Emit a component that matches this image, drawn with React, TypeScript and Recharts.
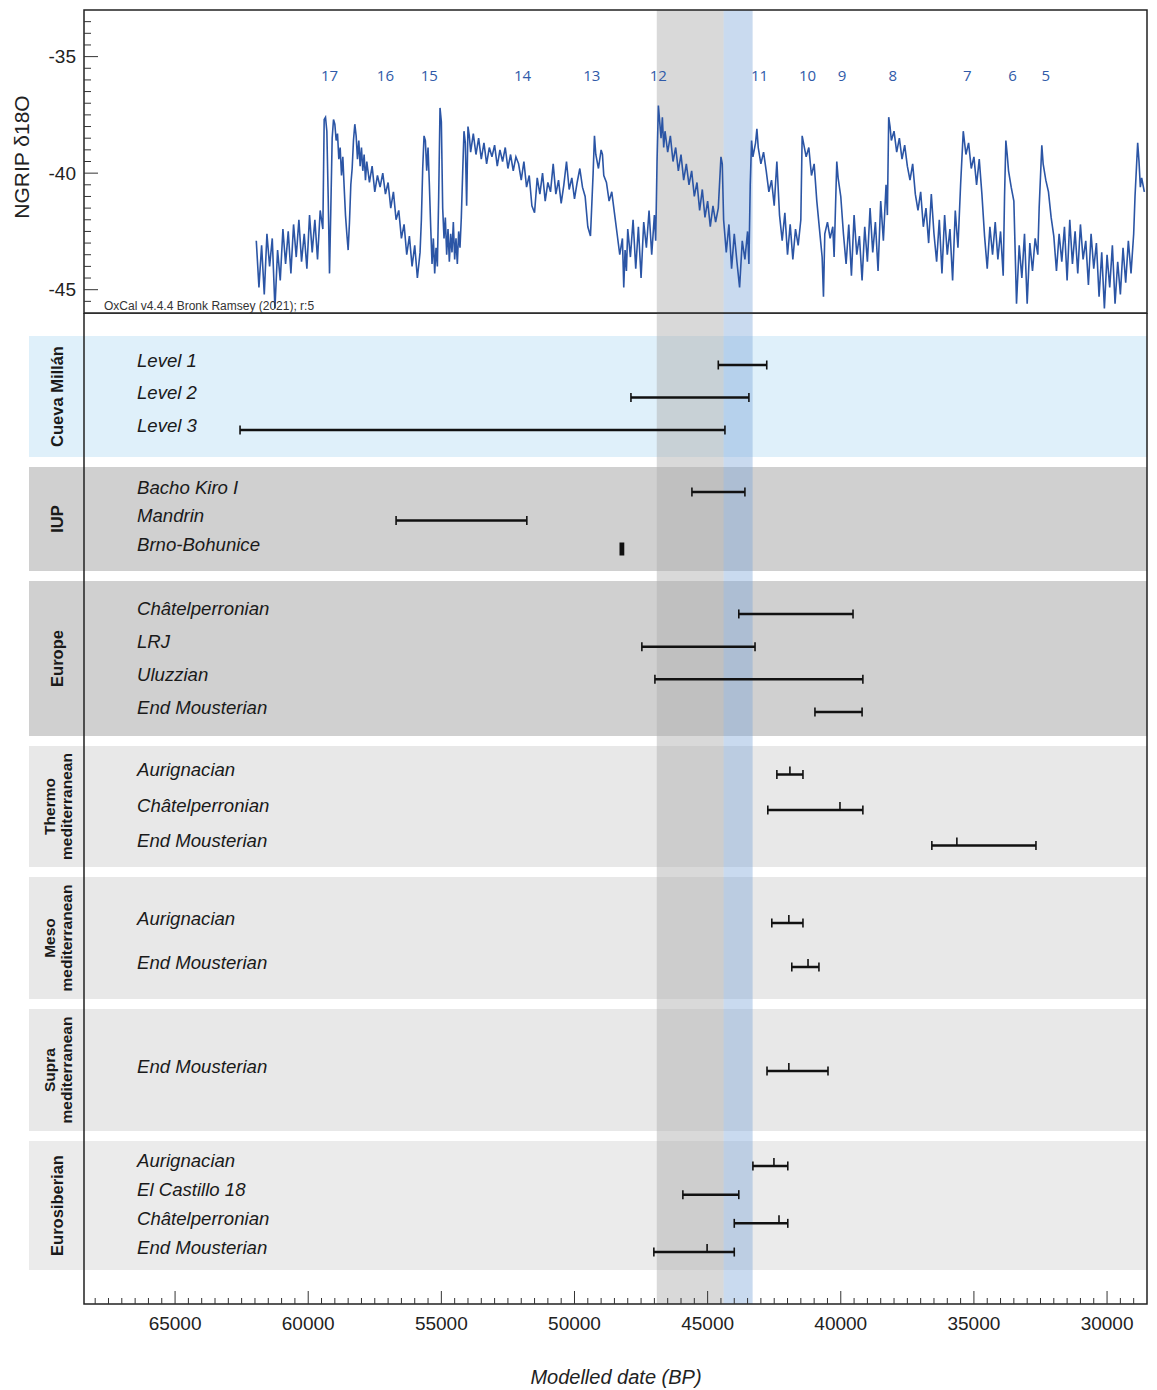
// NGRIP δ18O record over modelled date ranges (OxCal) for Cueva Millán and comparison sites.
// Two stacked Recharts charts share one reversed BP time axis.

import { ComposedChart, Line, LineChart, ReferenceArea, ReferenceDot, XAxis, YAxis } from "recharts";

// ---- data -----------------------------------------------------------------

// [year BP, δ18O ‰]
const NGRIP: [number, number][] = [
  [61950, -42.9], [61850, -44.9], [61750, -43.1], [61650, -45.2], [61550, -42.6], [61450, -44.0],
  [61350, -42.8], [61250, -45.8], [61150, -43.3], [61050, -44.6], [60950, -42.4], [60850, -43.9],
  [60750, -42.5], [60650, -44.3], [60550, -42.2], [60450, -43.6], [60350, -42.0], [60250, -43.8],
  [60150, -42.6], [60050, -44.1], [59950, -41.8], [59850, -43.4], [59750, -42.0], [59650, -43.7],
  [59550, -41.6], [59450, -42.4], [59400, -37.7], [59350, -37.6], [59300, -38.2], [59250, -41.0],
  [59200, -44.3], [59150, -41.5], [59100, -38.5], [59050, -37.7], [59000, -37.9], [58950, -38.6],
  [58900, -38.3], [58850, -39.4], [58800, -38.9], [58750, -40.1], [58700, -39.3], [58650, -40.6],
  [58600, -41.8], [58550, -42.6], [58500, -43.3], [58450, -42.1], [58400, -40.5], [58350, -39.8],
  [58300, -38.6], [58250, -37.9], [58200, -38.4], [58150, -39.4], [58100, -38.6], [58050, -39.7],
  [58000, -38.9], [57950, -39.9], [57900, -39.2], [57850, -40.3], [57800, -39.5], [57700, -40.4],
  [57600, -39.7], [57500, -40.8], [57400, -40.1], [57300, -40.6], [57200, -40.0], [57100, -40.9],
  [57000, -40.4], [56900, -41.5], [56800, -40.8], [56700, -42.0], [56600, -41.6], [56500, -42.8],
  [56400, -42.2], [56300, -43.5], [56200, -42.7], [56100, -44.0], [56000, -43.1], [55900, -44.5],
  [55800, -43.4], [55750, -42.0], [55700, -39.8], [55650, -38.4], [55600, -38.6], [55550, -39.9],
  [55500, -38.9], [55450, -40.5], [55400, -42.3], [55350, -43.9], [55300, -42.8], [55250, -44.3],
  [55200, -43.2], [55150, -44.0], [55100, -41.0], [55050, -37.2], [55000, -37.8], [54950, -41.5],
  [54900, -42.8], [54850, -41.9], [54800, -43.5], [54750, -42.4], [54700, -43.8], [54650, -42.6],
  [54600, -43.4], [54550, -42.1], [54500, -43.7], [54450, -42.8], [54400, -43.9], [54350, -42.5],
  [54300, -43.2], [54250, -41.9], [54200, -40.0], [54150, -38.2], [54100, -38.7], [54050, -41.4],
  [54000, -38.0], [53950, -38.4], [53900, -39.1], [53800, -38.3], [53700, -39.2], [53600, -38.5],
  [53500, -39.4], [53400, -38.7], [53300, -39.6], [53200, -38.9], [53100, -39.3], [53000, -38.8],
  [52900, -39.7], [52800, -39.0], [52700, -39.5], [52600, -38.9], [52500, -39.8], [52400, -39.2],
  [52300, -39.9], [52200, -39.3], [52100, -39.6], [52000, -40.3], [51900, -39.5], [51800, -40.6],
  [51700, -40.1], [51600, -41.4], [51500, -41.7], [51400, -40.2], [51300, -40.9], [51200, -40.0],
  [51100, -41.2], [51000, -40.4], [50900, -40.8], [50800, -39.6], [50700, -40.9], [50600, -40.3],
  [50500, -41.3], [50400, -40.5], [50300, -39.5], [50200, -40.7], [50100, -40.2], [50000, -41.1],
  [49900, -40.4], [49800, -39.8], [49700, -40.6], [49600, -41.0], [49500, -42.3], [49400, -42.7],
  [49300, -40.0], [49250, -38.4], [49200, -39.2], [49100, -39.8], [49000, -39.0], [48950, -39.2],
  [48900, -40.1], [48800, -40.4], [48700, -41.2], [48600, -40.8], [48500, -41.7], [48400, -42.6],
  [48300, -43.5], [48200, -42.8], [48150, -44.9], [48100, -43.3], [48050, -44.2], [48000, -42.4],
  [47900, -43.6], [47800, -42.0], [47700, -44.1], [47600, -42.3], [47500, -44.5], [47400, -42.1],
  [47300, -43.2], [47200, -41.6], [47100, -43.5], [47000, -41.8], [46950, -42.9], [46900, -39.5],
  [46850, -37.1], [46800, -37.8], [46750, -38.5], [46700, -37.6], [46650, -38.9], [46600, -38.2],
  [46500, -39.1], [46400, -38.4], [46300, -39.5], [46200, -38.9], [46100, -39.9], [46000, -39.2],
  [45900, -40.3], [45800, -39.6], [45700, -40.5], [45600, -39.9], [45500, -41.0], [45400, -40.4],
  [45300, -41.6], [45200, -40.7], [45100, -41.9], [45000, -41.2], [44900, -42.3], [44800, -41.4],
  [44700, -42.1], [44600, -41.5], [44500, -39.3], [44450, -39.6], [44400, -42.0], [44300, -43.4],
  [44200, -42.2], [44100, -44.1], [44000, -42.6], [43900, -43.8], [43800, -44.9], [43700, -42.9],
  [43600, -43.7], [43500, -42.5], [43450, -43.9], [43400, -40.5], [43350, -38.6], [43300, -39.3],
  [43200, -38.7], [43150, -38.1], [43100, -38.9], [43000, -39.6], [42900, -39.1], [42800, -39.9],
  [42700, -40.8], [42600, -40.3], [42500, -41.4], [42400, -39.5], [42300, -41.8], [42200, -42.9],
  [42100, -41.7], [42000, -43.5], [41900, -42.2], [41800, -43.7], [41700, -42.4], [41600, -43.1],
  [41500, -42.0], [41450, -38.4], [41400, -38.7], [41300, -39.3], [41200, -38.9], [41100, -40.1],
  [41000, -39.6], [40900, -41.2], [40800, -42.4], [40700, -43.6], [40650, -45.3], [40600, -42.6],
  [40500, -42.1], [40400, -42.8], [40300, -42.3], [40250, -43.6], [40150, -39.5], [40100, -40.2],
  [40000, -41.0], [39900, -42.6], [39800, -43.9], [39700, -42.2], [39600, -44.4], [39500, -41.8],
  [39400, -43.5], [39300, -42.7], [39200, -44.6], [39100, -42.3], [39000, -43.8], [38900, -41.5],
  [38800, -43.4], [38700, -42.1], [38600, -44.2], [38500, -41.2], [38400, -42.9], [38300, -40.5],
  [38250, -41.8], [38200, -37.6], [38150, -38.0], [38100, -38.6], [38000, -38.2], [37900, -39.1],
  [37800, -38.5], [37700, -39.4], [37600, -38.8], [37500, -39.7], [37400, -40.3], [37300, -39.6],
  [37200, -40.9], [37100, -41.6], [37000, -40.8], [36900, -42.3], [36800, -41.5], [36700, -43.0],
  [36600, -40.9], [36500, -42.6], [36400, -43.8], [36300, -42.0], [36200, -44.3], [36100, -41.8],
  [36000, -43.5], [35900, -42.4], [35800, -44.6], [35700, -41.6], [35600, -43.2], [35500, -40.5],
  [35400, -38.2], [35300, -39.2], [35200, -38.7], [35100, -39.8], [35000, -39.3], [34900, -40.5],
  [34800, -39.4], [34700, -40.9], [34600, -42.7], [34500, -44.1], [34400, -42.3], [34300, -43.5],
  [34200, -42.1], [34100, -43.7], [34000, -42.5], [33900, -44.4], [33850, -41.0], [33800, -38.6],
  [33750, -39.2], [33700, -39.9], [33600, -40.6], [33500, -41.2], [33400, -45.6], [33300, -43.1],
  [33200, -44.5], [33100, -42.6], [33000, -45.6], [32900, -43.0], [32800, -44.2], [32700, -42.8],
  [32600, -43.5], [32550, -41.5], [32450, -38.8], [32400, -39.6], [32300, -40.3], [32200, -40.8],
  [32100, -41.9], [32000, -42.7], [31900, -44.2], [31800, -42.6], [31700, -43.8], [31600, -42.3],
  [31500, -44.6], [31400, -42.0], [31300, -43.9], [31200, -42.5], [31100, -44.3], [31000, -42.2],
  [30900, -43.7], [30800, -42.9], [30700, -44.8], [30600, -42.6], [30500, -44.1], [30400, -43.0],
  [30300, -45.3], [30200, -43.4], [30100, -45.8], [30000, -43.5], [29900, -44.9], [29800, -43.1],
  [29700, -45.6], [29600, -43.8], [29500, -45.2], [29400, -43.2], [29300, -44.7], [29200, -42.9],
  [29100, -44.3], [29000, -42.6], [28950, -41.0], [28850, -38.7], [28800, -39.5], [28750, -40.6],
  [28700, -40.2], [28600, -40.8],
];

// Greenland interstadial numbers and where they sit on the time axis
const GI_LABELS = ["17", "16", "15", "14", "13", "12", "11", "10", "9", "8", "7", "6", "5"];
const GI_YEARS = [59200, 57100, 55450, 51950, 49350, 46850, 43050, 41250, 39950, 38050, 35250, 33550, 32300];

const GROUPS = [
  "Cueva Millán",
  "IUP",
  "Europe",
  "Thermo\nmediterranean",
  "Meso\nmediterranean",
  "Supra\nmediterranean",
  "Eurosiberian",
];

const ROW_LABELS: string[][] = [
  ["Level 1", "Level 2", "Level 3"],
  ["Bacho Kiro I", "Mandrin", "Brno-Bohunice"],
  ["Châtelperronian", "LRJ", "Uluzzian", "End Mousterian"],
  ["Aurignacian", "Châtelperronian", "End Mousterian"],
  ["Aurignacian", "End Mousterian"],
  ["End Mousterian"],
  ["Aurignacian", "El Castillo 18", "Châtelperronian", "End Mousterian"],
];

// modelled ranges, years BP (older bound, younger bound)
const ROW_FROM: number[][] = [
  [44600, 47880, 62560],
  [45590, 56700, 48310],
  [43830, 47470, 46980, 40970],
  [42400, 42740, 36580],
  [42590, 41840],
  [42770],
  [43300, 45930, 44000, 47020],
];
const ROW_TO: number[][] = [
  [42780, 43450, 44350],
  [43600, 51790, 48130],
  [39540, 43220, 39170, 39200],
  [41420, 39170, 32670],
  [41420, 40820],
  [40480],
  [41990, 43830, 41990, 44000],
];
const ROW_MEDIAN: (number | null)[][] = [
  [null, null, null],
  [null, null, null],
  [null, null, null, null],
  [41910, 40030, 35640],
  [41950, 41230],
  [41950],
  [42510, null, 42320, 45020],
];

// Gray and blue vertical highlight spans
const GRAY_SPAN: [number, number] = [46910, 44400];
const BLUE_SPAN: [number, number] = [44400, 43310];

const X_LABEL_TICKS = [65000, 60000, 55000, 50000, 45000, 40000, 35000, 30000];
const Y_LABEL_TICKS = [-35, -40, -45];

// ---- layout ---------------------------------------------------------------

const W = 1157;
const X_DOMAIN: [number, number] = [28500, 68420];
const AXIS_X = 84;
const FONT = "'Liberation Sans', Arial, sans-serif";

const TOP_H = 314;
const TOP_DOMAIN: [number, number] = [-46, -33];
const GI_LEVEL = -35.83;

const BOT_TOP = 313;
const BOT_PLOT_H = 991;
const BOT_H = 1077;
const LABEL_X = 137;

const BAND: [number, number][] = [
  [23, 144], [154, 258], [268, 423], [433, 554], [564, 686], [696, 818], [828, 957],
];
const ROW_CENTER = [84.5, 207.5, 350, 497, 632, 758, 896];
const ROW_GAP = [32.5, 28.5, 32.7, 35.5, 44, 0, 28.7];
const BAND_FILL = ["#dff0fa", "#d0d0d0", "#d0d0d0", "#e8e8e8", "#e8e8e8", "#e8e8e8", "#ebebeb"];

const GRAY_FILL = "rgba(174,174,174,0.47)";
const BLUE_FILL = "rgba(120,163,215,0.4)";

const ngripData = NGRIP.map(([x, v]) => ({ x, v }));

const rows = GROUPS.flatMap((_, gi) =>
  ROW_LABELS[gi].map((label, i) => ({
    label,
    from: ROW_FROM[gi][i],
    to: ROW_TO[gi][i],
    median: ROW_MEDIAN[gi][i],
    y: ROW_CENTER[gi] + (i - (ROW_LABELS[gi].length - 1) / 2) * ROW_GAP[gi],
  }))
);

const topTicks: number[] = [];
for (let v = -45.5; v <= -33.5; v += 0.5) topTicks.push(v);

const bottomTicks: number[] = [];
for (let t = 68000; t >= 29000; t -= 500) bottomTicks.push(t);

// ---- renderers ------------------------------------------------------------

function TopTick(p: any) {
  const v = p.payload.value as number;
  const major = Y_LABEL_TICKS.includes(v);
  return (
    <g>
      <line x1={AXIS_X} x2={AXIS_X + (major ? 14 : 7)} y1={p.y} y2={p.y} stroke="#333" strokeWidth={1} />
      {major && (
        <text x={76} y={p.y} textAnchor="end" dominantBaseline="central" fontFamily={FONT} fontSize={19} fill="#222">
          {v}
        </text>
      )}
    </g>
  );
}

function BottomTick(p: any) {
  const v = p.payload.value as number;
  const major = X_LABEL_TICKS.includes(v);
  return (
    <g>
      <line x1={p.x} x2={p.x} y1={BOT_PLOT_H} y2={BOT_PLOT_H - (major ? 13 : 6)} stroke="#333" strokeWidth={1} />
      {major && (
        <text x={p.x} y={BOT_PLOT_H + 19} textAnchor="middle" dominantBaseline="central" fontFamily={FONT} fontSize={19} fill="#222">
          {v}
        </text>
      )}
    </g>
  );
}

function RowLabel(p: any) {
  const row = rows.find((r) => Math.abs(r.y - p.payload.value) < 0.01);
  if (!row) return <g />;
  return (
    <text x={LABEL_X} y={p.y + 1.5} fontFamily={FONT} fontStyle="italic" fontSize={18.6} fill="#1a1a1a">
      {row.label}
    </text>
  );
}

const bandShape = (gi: number) => (p: any) => {
  const ext = AXIS_X - 29;
  const lines = GROUPS[gi].split("\n");
  const cy = p.y + p.height / 2;
  const cx = lines.length > 1 ? 57.5 : 57;
  return (
    <g>
      <rect x={p.x - ext} y={p.y} width={p.width + ext} height={p.height} fill={BAND_FILL[gi]} />
      {lines.map((ln, li) => {
        const lx = cx + (li - (lines.length - 1) / 2) * 17;
        return (
          <text
            key={li}
            x={lx}
            y={cy}
            transform={`rotate(-90 ${lx} ${cy})`}
            textAnchor="middle"
            dominantBaseline="central"
            fontFamily={FONT}
            fontWeight="bold"
            fontSize={lines.length > 1 ? 15.5 : 16.5}
            fill="#1a1a1a"
          >
            {ln}
          </text>
        );
      })}
    </g>
  );
};

const capDot = (p: any) => (
  <line
    key={`cap-${p.index}-${p.cx}`}
    x1={p.cx}
    x2={p.cx}
    y1={p.cy - 4.5}
    y2={p.cy + 4.5}
    stroke="#111"
    strokeWidth={1.6}
  />
);

export default function App() {
  return (
    <div style={{ position: "absolute", left: 0, top: 0, width: W, height: 1390, background: "#fff" }}>
      <div style={{ position: "absolute", left: 0, top: 0 }}>
        <LineChart width={W} height={TOP_H} data={ngripData} margin={{ top: 10, right: 10, bottom: 1, left: 0 }}>
          <XAxis type="number" dataKey="x" domain={X_DOMAIN} reversed allowDataOverflow hide />
          <YAxis
            type="number"
            domain={TOP_DOMAIN}
            allowDataOverflow
            ticks={topTicks}
            interval={0}
            width={AXIS_X}
            axisLine={false}
            tickLine={false}
            tick={(p: any) => <TopTick {...p} />}
          />
          <ReferenceArea x1={GRAY_SPAN[0]} x2={GRAY_SPAN[1]} fill={GRAY_FILL} fillOpacity={1} ifOverflow="visible" />
          <ReferenceArea x1={BLUE_SPAN[0]} x2={BLUE_SPAN[1]} fill={BLUE_FILL} fillOpacity={1} ifOverflow="visible" />
          <Line
            type="linear"
            dataKey="v"
            stroke="#2b55a5"
            strokeWidth={1.6}
            dot={false}
            activeDot={false}
            isAnimationActive={false}
          />
          {GI_LABELS.map((lbl, i) => (
            <ReferenceDot
              key={lbl}
              x={GI_YEARS[i]}
              y={GI_LEVEL}
              r={0}
              fill="none"
              stroke="none"
              ifOverflow="visible"
              label={{ value: lbl, position: "center", fill: "#2f5aa8", fontSize: 15, fontFamily: "'Open Sans', sans-serif" }}
            />
          ))}
          <ReferenceArea
            x1={X_DOMAIN[1]}
            x2={X_DOMAIN[0]}
            y1={TOP_DOMAIN[0]}
            y2={TOP_DOMAIN[1]}
            fill="none"
            fillOpacity={0}
            stroke="#222"
            strokeWidth={1.5}
            ifOverflow="visible"
          />
        </LineChart>
      </div>

      <div style={{ position: "absolute", left: 0, top: BOT_TOP }}>
        <ComposedChart width={W} height={BOT_H} margin={{ top: 0, right: 10, bottom: 0, left: 0 }}>
          <XAxis
            type="number"
            dataKey="x"
            domain={X_DOMAIN}
            reversed
            allowDataOverflow
            ticks={bottomTicks}
            interval={0}
            height={BOT_H - BOT_PLOT_H}
            axisLine={false}
            tickLine={false}
            tick={(p: any) => <BottomTick {...p} />}
          />
          <YAxis
            type="number"
            dataKey="y"
            domain={[0, BOT_PLOT_H]}
            reversed
            allowDataOverflow
            ticks={rows.map((r) => r.y)}
            interval={0}
            width={AXIS_X}
            axisLine={false}
            tickLine={false}
            tick={(p: any) => <RowLabel {...p} />}
          />
          {GROUPS.map((g, gi) => (
            <ReferenceArea
              key={g}
              x1={X_DOMAIN[1]}
              x2={X_DOMAIN[0]}
              y1={BAND[gi][0]}
              y2={BAND[gi][1]}
              ifOverflow="visible"
              shape={bandShape(gi)}
            />
          ))}
          <ReferenceArea x1={GRAY_SPAN[0]} x2={GRAY_SPAN[1]} fill={GRAY_FILL} fillOpacity={1} ifOverflow="visible" />
          <ReferenceArea x1={BLUE_SPAN[0]} x2={BLUE_SPAN[1]} fill={BLUE_FILL} fillOpacity={1} ifOverflow="visible" />
          {rows.map((r, i) => {
            const block = Math.abs(r.from - r.to) < 400;
            return (
              <Line
                key={`bar-${i}`}
                data={[
                  { x: r.from, y: r.y },
                  { x: r.to, y: r.y },
                ]}
                dataKey="y"
                type="linear"
                stroke="#111"
                strokeWidth={block ? 13 : 2.5}
                dot={block ? false : capDot}
                activeDot={false}
                isAnimationActive={false}
              />
            );
          })}
          {rows
            .filter((r) => r.median != null)
            .map((r, i) => (
              <Line
                key={`med-${i}`}
                data={[
                  { x: r.median as number, y: r.y },
                  { x: r.median as number, y: r.y - 8 },
                ]}
                dataKey="y"
                type="linear"
                stroke="#111"
                strokeWidth={1.6}
                dot={false}
                activeDot={false}
                isAnimationActive={false}
              />
            ))}
          <ReferenceArea
            x1={X_DOMAIN[1]}
            x2={X_DOMAIN[0]}
            y1={0}
            y2={BOT_PLOT_H}
            fill="none"
            fillOpacity={0}
            stroke="#222"
            strokeWidth={1.5}
            ifOverflow="visible"
          />
        </ComposedChart>
      </div>

      <svg width={W} height={1390} style={{ position: "absolute", left: 0, top: 0, pointerEvents: "none" }}>
        <text
          x={21}
          y={157}
          transform="rotate(-90 21 157)"
          textAnchor="middle"
          dominantBaseline="central"
          fontFamily={FONT}
          fontSize={21}
          fill="#222"
        >
          NGRIP δ18O
        </text>
        <text x={104} y={310} fontFamily={FONT} fontSize={12} fill="#333">
          OxCal v4.4.4 Bronk Ramsey (2021); r:5
        </text>
        <text x={616} y={1377} textAnchor="middle" dominantBaseline="central" fontFamily={FONT} fontStyle="italic" fontSize={20} fill="#222">
          Modelled date (BP)
        </text>
      </svg>
    </div>
  );
}
